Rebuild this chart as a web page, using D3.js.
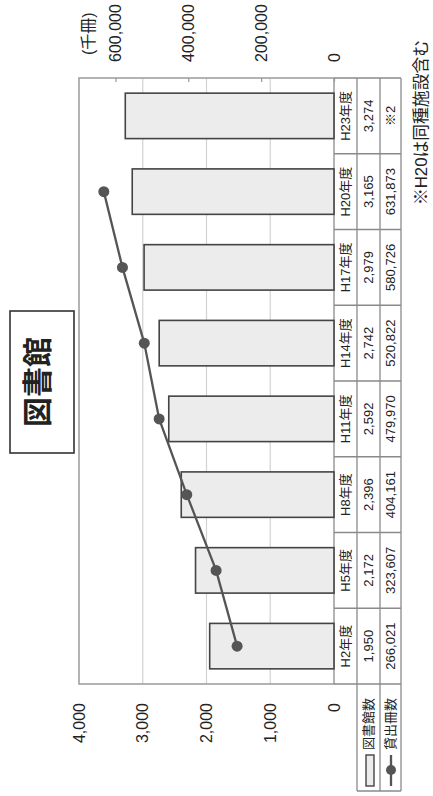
<!DOCTYPE html>
<html>
<head>
<meta charset="utf-8">
<script src="https://cdn.jsdelivr.net/npm/d3@7"></script>
<style>
  html, body { margin: 0; padding: 0; background: #fff; }
  svg { display: block; }
  text { font-family: "Liberation Sans", Arial, "Noto Sans CJK JP", sans-serif; fill: #222; }
</style>
</head>
<body>
<svg id="chart" width="433" height="796"></svg>
<script>
// 図書館数 (bars, left axis) and 貸出冊数 in 千冊 (line, right axis)
const years = ["H2年度", "H5年度", "H8年度", "H11年度", "H14年度", "H17年度", "H20年度", "H23年度"];
const libraries = [1950, 2172, 2396, 2592, 2742, 2979, 3165, 3274];
const loans = [266021, 323607, 404161, 479970, 520822, 580726, 631873, null];
const loanNotes = ["", "", "", "", "", "", "", "※2"];
const leftTicks = [0, 1000, 2000, 3000, 4000];
const rightTicks = [0, 200000, 400000, 600000];
const seriesNames = ["図書館数", "貸出冊数"];

const W = 796, H = 433;           // chart drawn landscape, then turned upright
const svg = d3.select("#chart");
const g = svg.append("g").attr("transform", `translate(0,${W}) rotate(-90)`);

const plot = { left: 112, right: 718, top: 79, bottom: 334 };
const fmt = d3.format(",");

const x = d3.scaleBand().domain(years).range([plot.left, plot.right])
  .paddingInner(0.4).paddingOuter(0.2);
const yL = d3.scaleLinear().domain([0, 4000]).range([plot.bottom, plot.top]);
const yR = d3.scaleLinear().domain([0, 700000]).range([plot.bottom, plot.top]);

// gridlines
g.append("g").selectAll("line").data(leftTicks.slice(1, -1)).join("line")
  .attr("x1", plot.left).attr("x2", plot.right)
  .attr("y1", d => yL(d)).attr("y2", d => yL(d))
  .attr("stroke", "#d2d2d2").attr("stroke-width", 1.2);

// plot frame
g.append("rect")
  .attr("x", plot.left).attr("y", plot.top)
  .attr("width", plot.right - plot.left).attr("height", plot.bottom - plot.top)
  .attr("fill", "none").attr("stroke", "#9a9a9a").attr("stroke-width", 1.5);

// left axis
const axL = g.append("g").attr("transform", `translate(${plot.left},0)`)
  .call(d3.axisLeft(yL).tickValues(leftTicks).tickFormat(fmt).tickSize(0).tickPadding(19));
axL.select(".domain").remove();
axL.selectAll("text").attr("font-size", 16).attr("font-family", null).attr("fill", "#222");

// right axis with inward ticks
const axR = g.append("g").attr("transform", `translate(${plot.right},0)`)
  .call(d3.axisRight(yR).tickValues(rightTicks).tickFormat(fmt)
    .tickSizeInner(-4).tickSizeOuter(0).tickPadding(16));
axR.select(".domain").remove();
axR.selectAll("line").attr("stroke", "#9a9a9a").attr("stroke-width", 1.2);
axR.selectAll("text").attr("font-size", 16).attr("font-family", null).attr("fill", "#222");
g.append("text").attr("x", 741).attr("y", 88).attr("dy", "0.35em")
  .attr("font-size", 16).text("(千冊)");

// bars
g.append("g").selectAll("rect").data(libraries).join("rect")
  .attr("x", (d, i) => x(years[i]))
  .attr("width", x.bandwidth())
  .attr("y", d => yL(d))
  .attr("height", d => yL(0) - yL(d))
  .attr("fill", "#ececec").attr("stroke", "#444").attr("stroke-width", 1.6);

// line with markers
const pts = loans.map((v, i) => ({ v, i })).filter(p => p.v != null);
const line = d3.line()
  .x(p => x(years[p.i]) + x.bandwidth() / 2)
  .y(p => yR(p.v));
g.append("path").datum(pts).attr("d", line)
  .attr("fill", "none").attr("stroke", "#555").attr("stroke-width", 2.3);
g.append("g").selectAll("circle").data(pts).join("circle")
  .attr("cx", p => x(years[p.i]) + x.bandwidth() / 2)
  .attr("cy", p => yR(p.v))
  .attr("r", 5.5).attr("fill", "#555");

// data table under the plot
const rows = [334, 357, 380, 401];
const tableLeft = 5;
const tg = g.append("g").attr("stroke", "#8a8a8a").attr("stroke-width", 1.3);
[357, 380, 401].forEach(yy => {
  tg.append("line").attr("x1", tableLeft).attr("x2", plot.right).attr("y1", yy).attr("y2", yy);
});
const colEdges = [plot.left].concat(years.map(d => x(d) - x.step() * x.paddingInner() / 2 + x.step()));
colEdges.forEach(xx => {
  tg.append("line").attr("x1", xx).attr("x2", xx).attr("y1", rows[0]).attr("y2", rows[3]);
});
tg.append("line").attr("x1", tableLeft).attr("x2", tableLeft).attr("y1", rows[1]).attr("y2", rows[3]);

const cx = d => x(d) + x.bandwidth() / 2;
const rowMid = i => (rows[i] + rows[i + 1]) / 2;
const cells = g.append("g").attr("font-size", 13).attr("text-anchor", "middle");
cells.selectAll(".yr").data(years).join("text")
  .attr("x", d => cx(d)).attr("y", rowMid(0)).attr("dy", "0.35em").text(d => d);
cells.selectAll(".lib").data(libraries).join("text")
  .attr("x", (d, i) => cx(years[i])).attr("y", rowMid(1)).attr("dy", "0.35em").text(d => fmt(d));
cells.selectAll(".loan").data(loans).join("text")
  .attr("x", (d, i) => cx(years[i])).attr("y", rowMid(2)).attr("dy", "0.35em")
  .text((d, i) => d == null ? loanNotes[i] : fmt(d));

// legend keys inside the table
g.append("rect").attr("x", 10).attr("y", 366).attr("width", 31).attr("height", 8)
  .attr("fill", "#ececec").attr("stroke", "#444").attr("stroke-width", 1.4);
g.append("line").attr("x1", 10).attr("x2", 41).attr("y1", 391).attr("y2", 391)
  .attr("stroke", "#555").attr("stroke-width", 2.3);
g.append("circle").attr("cx", 26).attr("cy", 391).attr("r", 5).attr("fill", "#555");
g.append("text").attr("x", 46).attr("y", rowMid(1)).attr("dy", "0.35em")
  .attr("font-size", 13).text(seriesNames[0]);
g.append("text").attr("x", 46).attr("y", rowMid(2)).attr("dy", "0.35em")
  .attr("font-size", 13).text(seriesNames[1]);

// title
g.append("rect").attr("x", 343).attr("y", 10).attr("width", 142).attr("height", 64)
  .attr("fill", "#fff").attr("stroke", "#333").attr("stroke-width", 1.6);
g.append("text").attr("x", 414).attr("y", 37).attr("dy", "0.36em")
  .attr("text-anchor", "middle").attr("font-size", 30).attr("font-weight", "bold")
  .text("図書館");

// footnote
g.append("text").attr("x", 756).attr("y", 421).attr("dy", "0.36em")
  .attr("text-anchor", "end").attr("font-size", 16.8).text("※H20は同種施設含む");
</script>
</body>
</html>
